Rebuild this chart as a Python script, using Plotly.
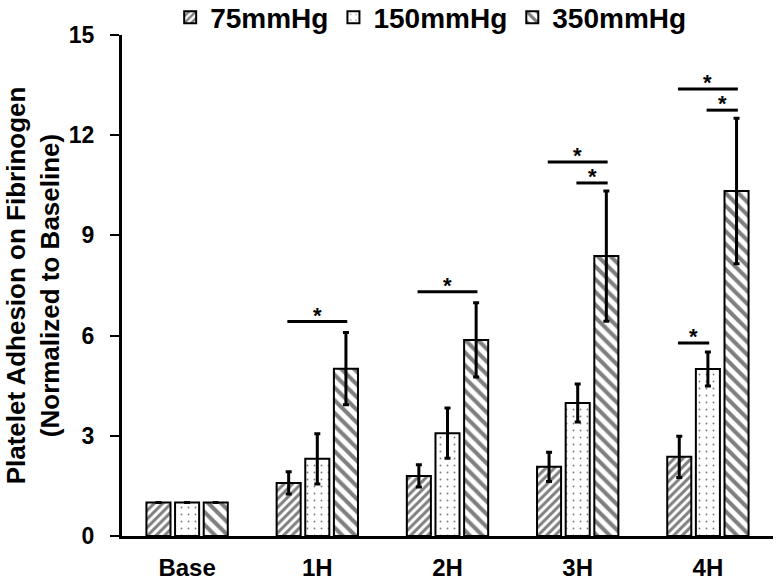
import plotly.graph_objects as go

categories = ["Base", "1H", "2H", "3H", "4H"]
series_names = ["75mmHg", "150mmHg", "350mmHg"]
means_75 = [1.0, 1.59, 1.80, 2.07, 2.37]
means_150 = [1.0, 2.31, 3.08, 3.98, 5.00]
means_350 = [1.0, 5.01, 5.87, 8.38, 10.33]
err_75 = [None, 0.33, 0.33, 0.44, 0.62]
err_150 = [None, 0.75, 0.75, 0.57, 0.51]
err_350 = [None, 1.08, 1.11, 1.95, 2.18]
y_ticks = [0, 3, 6, 9, 12, 15]
# significance: (category, series index a, series index b, bracket level)
sig_cat = ["1H", "2H", "3H", "3H", "4H", "4H", "4H"]
sig_a = [0, 0, 0, 1, 0, 1, 0]
sig_b = [2, 2, 2, 2, 2, 2, 1]
sig_level = [6.42, 7.31, 11.2, 10.57, 13.38, 12.75, 5.78]

FONT = "Arial, Liberation Sans, sans-serif"
BARGAP = 0.34
BARGROUPGAP = 0.16

means = [means_75, means_150, means_350]
errs = [err_75, err_150, err_350]
patterns = [
    dict(shape="/", size=6, solidity=0.5),
    dict(shape=".", size=7, solidity=0.06),
    dict(shape="\\", size=9, solidity=0.45),
]

fig = go.Figure()
for name, m, e, p in zip(series_names, means, errs, patterns):
    fig.add_trace(go.Bar(
        x=categories, y=m, name=name,
        marker=dict(color="white", line=dict(color="black", width=2),
                    pattern=dict(fgcolor="black", bgcolor="white", **p)),
        error_y=dict(type="data", array=e, symmetric=True, color="black",
                     thickness=3, width=3),
    ))

slot = (1 - BARGAP) / 3
shapes = []
annotations = []
for c, a, b, lv in zip(sig_cat, sig_a, sig_b, sig_level):
    ci = categories.index(c)
    xa = ci + (a - 1) * slot - 0.01
    xb = ci + (b - 1) * slot + 0.01
    shapes.append(dict(type="line", xref="x", yref="y", x0=xa, x1=xb, y0=lv, y1=lv,
                       line=dict(color="black", width=3)))
    annotations.append(dict(x=(xa + xb) / 2, y=lv, xref="x", yref="y", text="*",
                            showarrow=False, yanchor="bottom", yshift=-8,
                            font=dict(family=FONT, size=22, color="black", weight="bold")))

fig.update_layout(
    width=779, height=588,
    margin=dict(l=122, r=6, t=35, b=52, autoexpand=False),
    paper_bgcolor="white", plot_bgcolor="white",
    barmode="group", bargap=BARGAP, bargroupgap=BARGROUPGAP,
    font=dict(family=FONT, color="black"),
    showlegend=True,
    legend=dict(orientation="h", x=0.074, xanchor="left", y=0.985, yanchor="bottom",
                font=dict(family=FONT, size=28, color="black", weight="bold"),
                bgcolor="rgba(0,0,0,0)", itemwidth=30),
    shapes=shapes, annotations=annotations,
    xaxis=dict(range=[-0.5, 4.5], showline=True, linewidth=3, linecolor="black",
               ticks="", showgrid=False, zeroline=False,
               tickfont=dict(family=FONT, size=24, color="black", weight="bold"),
               ticklabelstandoff=8),
    yaxis=dict(range=[0, 15], tickvals=y_ticks, showline=True, linewidth=3,
               linecolor="black", ticks="outside", ticklen=9, tickwidth=2,
               tickcolor="black", showgrid=False, zeroline=False,
               tickfont=dict(family=FONT, size=23, color="black", weight="bold"),
               ticklabelstandoff=11,
               title=dict(text="Platelet Adhesion on Fibrinogen<br>(Normalized to Baseline)",
                          font=dict(family=FONT, size=26, color="black", weight="bold"),
                          standoff=2)),
)

# remove the browser's default 8px body margin so the figure fills the window
fig.write_html("out.html", config={"displayModeBar": False},
               post_script="document.body.style.margin='0';")
